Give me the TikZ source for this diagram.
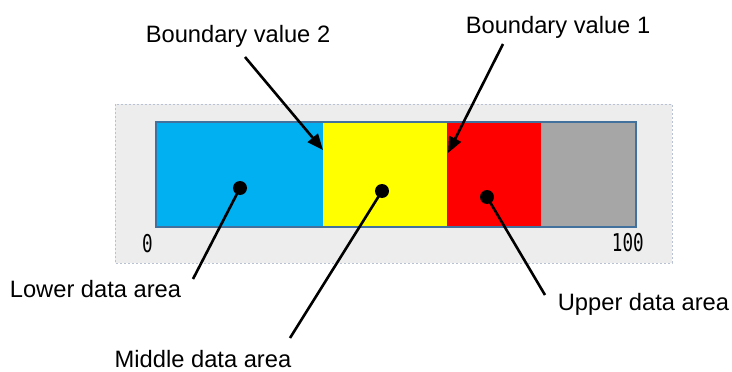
\documentclass[tikz,border=0pt]{standalone}
\usepackage{fontspec}
\setmainfont{Liberation Sans}
\newfontfamily\monofont{DejaVu Sans Mono}
\usetikzlibrary{arrows.meta}
\definecolor{bgfill}{HTML}{EDEDED}
\definecolor{bgline}{HTML}{B8C2D2}
\definecolor{frameblue}{HTML}{41719C}
\definecolor{cblue}{HTML}{00B0F0}
\definecolor{cyellow}{HTML}{FFFF00}
\definecolor{cred}{HTML}{FF0000}
\definecolor{cgray}{HTML}{A6A6A6}
\begin{document}
\begin{tikzpicture}[x=1pt,y=-1pt,
  lbl/.style={font=\fontsize{23.7}{28}\selectfont, inner sep=0pt, anchor=base},
  ticklbl/.style={font=\monofont\fontsize{24.5}{28}\selectfont, inner sep=0pt},
  dotnode/.style={circle, fill=black, inner sep=0pt, minimum size=14pt},
  conn/.style={line width=2.6pt},
  arr/.style={line width=2.6pt, -{Triangle[length=16pt,width=13pt]}}]
\useasboundingbox (0,0) rectangle (732,372);
% background panel
\draw[bgline, fill=bgfill, line width=1pt, dash pattern=on 2pt off 2pt] (115,104) rectangle (672,263);
% coloured areas
\fill[cblue]   (156,122) rectangle (323,227);
\fill[cyellow] (323,122) rectangle (447,227);
\fill[cred]    (447,122) rectangle (541,227);
\fill[cgray]   (541,122) rectangle (636,227);
\draw[frameblue, line width=2.5pt] (156,122) rectangle (636,227);
% scale labels
\node[ticklbl, anchor=base west] (zero) at (142,252) {\scalebox{0.72}[1]{0}};
\node[ticklbl, anchor=base east] (hundred) at (644,251) {\scalebox{0.72}[1]{100}};
% dots
\node[dotnode] (dlow) at (240,188) {};
\node[dotnode] (dmid) at (382,191) {};
\node[dotnode] (dup)  at (487,197) {};
% labels
\node[lbl] (bv2) at (238,42) {Boundary value 2};
\node[lbl] (bv1) at (558,33) {Boundary value 1};
\node[lbl] (low) at (95.5,297) {Lower data area};
\node[lbl] (mid) at (203,367) {Middle data area};
\node[lbl] (upp) at (643.5,310) {Upper data area};
% connector endpoints
\coordinate (bv2s) at (245,57);
\coordinate (bv2e) at (323,150);
\coordinate (bv1s) at (503,44);
\coordinate (bv1e) at (448,153);
\coordinate (lowe) at (193,279);
\coordinate (mide) at (290,338);
\coordinate (uppe) at (545,295);
% connectors
\draw[arr] (bv2s) -- (bv2e);
\draw[arr] (bv1s) -- (bv1e);
\draw[conn] (dlow.center) -- (lowe);
\draw[conn] (dmid.center) -- (mide);
\draw[conn] (dup.center) -- (uppe);
\end{tikzpicture}
\end{document}
